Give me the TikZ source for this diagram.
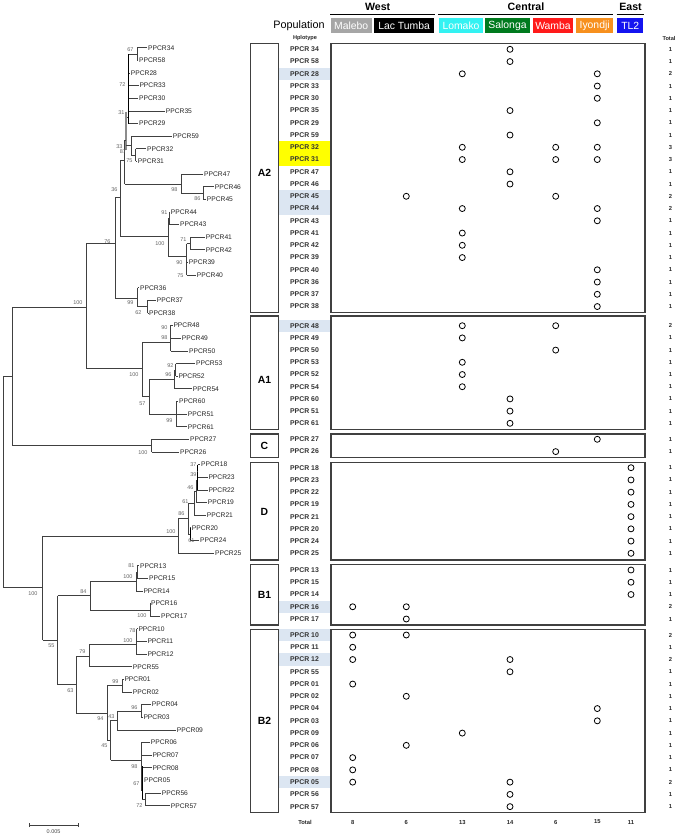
\documentclass[tikz,border=0pt]{standalone}
\usepackage{fontspec}
\setmainfont{Liberation Sans}
\newcommand\myfs[1]{\fontsize{#1}{#1}\selectfont}
\definecolor{cMal}{HTML}{A6A6A6}
\definecolor{cLac}{HTML}{000000}
\definecolor{cLom}{HTML}{33F2F2}
\definecolor{cSal}{HTML}{007A1E}
\definecolor{cWam}{HTML}{FF1A1A}
\definecolor{cIyo}{HTML}{F7901E}
\definecolor{cTL}{HTML}{1414F0}
\definecolor{hlb}{HTML}{DCE6F2}
\definecolor{hly}{HTML}{FFFF00}
\tikzset{
  br/.style={draw=black!75, line width=0.7pt},
  leaf/.style={anchor=west, inner sep=0.6pt, font=\myfs{6.7}, text=black!85},
  bs/.style={anchor=east, inner sep=0.3pt, font=\myfs{5.5}, text=black!60},
  hap/.style={inner sep=0pt, font=\bfseries\myfs{6.9}, text=black!80},
  tot/.style={inner sep=0pt, font=\bfseries\myfs{5.8}, text=black!85},
  occ/.style={circle, draw=black, line width=0.8pt, inner sep=0pt, minimum size=6pt},
  gbox/.style={draw=black!75, line width=1.1pt},
  clade/.style={inner sep=0pt, font=\bfseries\myfs{10.4}},
  popbox/.style={inner sep=0pt, minimum height=15pt, text=white, font=\myfs{10.4}},
  region/.style={inner sep=0pt, font=\bfseries\myfs{10.6}},
  hrule/.style={draw=black, line width=1.4pt}
}
\newcommand\tblgroup[3]{%
  \foreach \rn/\rc/\rt/\rh [count=\ri from 0] in {#3}{%
    \pgfmathsetmacro\yy{#1+\ri*#2}
    \ifnum\rh=1 \fill[hlb] (278.6,\yy-6.1) rectangle (330.2,\yy+6.1);\fi
    \ifnum\rh=2 \fill[hly] (278.6,\yy-6.1) rectangle (330.2,\yy+6.1);\fi
    \node[hap] (h\rn) at (304.5,\yy) {PPCR \rn};
    \node[tot] (s\rn) at (670.6,\yy) {\rt};
    \foreach \k in \rc {%
      \pgfmathsetmacro\xx{{0,352.7,406.3,462.3,510,555.7,597.3,631}[\k]}
      \node[occ] (o\rn-\k) at (\xx,\yy) {};
    }
  }%
}
\begin{document}
\begin{tikzpicture}[x=1pt,y=-1pt]
\fill[white] (0,0) rectangle (675,836);
\useasboundingbox (0,0) rectangle (675,836);

% ---------------- header ----------------
\node[region] (west) at (377.7,7) {West};
\node[region] (central) at (526,7) {Central};
\node[region] (east) at (630.5,7) {East};
\draw[hrule] (330,14.5) -- (435,14.5);
\draw[hrule] (438,14.5) -- (612.7,14.5);
\draw[hrule] (616.7,14.5) -- (644,14.5);
\node[inner sep=0pt, font=\myfs{10.8}] (popl) at (299,25.8) {Population};
\node[popbox, fill=cMal, minimum width=41pt] (pMal) at (351.2,25.7) {Malebo};
\node[popbox, fill=cLac, minimum width=60.3pt] (pLac) at (404.15,25.7) {Lac Tumba};
\node[popbox, fill=cLom, minimum width=43.4pt] (pLom) at (461,25.7) {Lomako};
\node[popbox, fill=cSal, minimum width=45pt] (pSal) at (507.5,25.7) {Salonga};
\node[popbox, fill=cWam, minimum width=40.6pt] (pWam) at (553,25.7) {Wamba};
\node[popbox, fill=cIyo, minimum width=37.3pt] (pIyo) at (594.65,25.7) {Iyondji};
\node[popbox, fill=cTL, minimum width=26pt] (pTL) at (630.3,25.7) {TL2};
\node[tot, font=\bfseries\myfs{5.6}] (hplo) at (305,38.3) {Hplotype};
\node[tot, font=\bfseries\myfs{5.6}] (totl) at (669,38.3) {Total};

% ---------------- table ----------------
\tblgroup{49.3}{12.25}{34/4/1/0, 58/4/1/0, 28/{3,6}/2/1, 33/6/1/0, 30/6/1/0, 35/4/1/0, 29/6/1/0, 59/4/1/0, 32/{3,5,6}/3/2, 31/{3,5,6}/3/2, 47/4/1/0, 46/4/1/0, 45/{2,5}/2/1, 44/{3,6}/2/1, 43/6/1/0, 41/3/1/0, 42/3/1/0, 39/3/1/0, 40/6/1/0, 36/6/1/0, 37/6/1/0, 38/6/1/0}
\tblgroup{325.7}{12.2}{48/{3,5}/2/1, 49/3/1/0, 50/5/1/0, 53/3/1/0, 52/3/1/0, 54/3/1/0, 60/4/1/0, 51/4/1/0, 61/4/1/0}
\tblgroup{439.3}{12.3}{27/6/1/0, 26/5/1/0}
\tblgroup{467.7}{12.23}{18/7/1/0, 23/7/1/0, 22/7/1/0, 19/7/1/0, 21/7/1/0, 20/7/1/0, 24/7/1/0, 25/7/1/0}
\tblgroup{570}{12.25}{13/7/1/0, 15/7/1/0, 14/7/1/0, 16/{1,2}/2/1, 17/2/1/0}
\tblgroup{635}{12.26}{10/{1,2}/2/1, 11/1/1/0, 12/{1,4}/2/1, 55/4/1/0, 01/1/1/0, 02/2/1/0, 04/6/1/0, 03/6/1/0, 09/3/1/0, 06/2/1/0, 07/1/1/0, 08/1/1/0, 05/{1,4}/2/1, 56/4/1/0, 57/4/1/0}

% group boxes
\foreach \ya/\yb/\lab/\ly in {43.3/312.3/A2/173, 316/429.3/A1/380, 434/457.7/C/446, 462.7/560/D/511.5, 564.3/625/B1/594.5, 629.3/812.7/B2/721}{%
  \draw[gbox] (250.7,\ya) rectangle (278.3,\yb);
  \draw[gbox] (331,\ya) rectangle (645,\yb);
  \node[clade] (cl\lab) at (264.5,\ly) {\lab};
}
% totals row
\node[tot] (ttot) at (305,822) {Total};
\foreach \v/\x [count=\j] in {8/352.7, 6/406.3, 13/462.3, 14/510, 6/555.7, 15/597.3, 11/631}{%
  \node[tot] (tc\j) at (\x,822) {\v};
}

% ---------------- tree: leaves ----------------
\foreach \n/\y/\x/\p in {34/47.7/148/137, 58/60.3/139/137, 28/73.0/130.7/128, 33/85.6/139.3/128, 30/98.2/139/128, 35/110.9/165.7/128, 29/123.5/139/128, 59/136.1/172.7/131, 32/148.8/147/135.7, 31/161.4/137.7/135.7, 47/174.0/204/181, 46/186.7/214.7/203.3, 45/199.3/206.7/203.3, 44/211.9/170.7/169.3, 43/224.6/180/169.3, 41/237.2/205.7/190, 42/249.8/205.7/190, 39/262.5/188.7/186.7, 40/275.1/196.7/186.7, 36/287.7/140/137.7, 37/300.4/156.7/147.7, 38/313.0/149/147.7, 48/325.6/173.3/170, 49/338.3/181.7/170, 50/350.9/189/170.7, 53/363.5/196/175.7, 52/376.2/178.3/175.7, 54/388.8/192.7/174, 60/401.4/179/176.7, 51/414.1/187.7/176.7, 61/426.7/187.7/176.7, 27/439.3/190/151.7, 26/452.0/180/151.7, 18/464.6/201/197.7, 23/477.2/208.3/197.7, 22/489.9/208.3/197, 19/502.5/207.7/196, 21/515.1/206.7/194.3, 20/527.8/191.7/190, 24/540.4/200/190, 25/553.0/215/178.3, 13/565.7/140/137.3, 15/578.3/149/137.3, 14/590.9/143.3/136, 16/603.6/151/150, 17/616.2/161/150, 10/628.8/138.3/136.7, 11/641.5/147.3/136.7, 12/654.1/147.3/136, 55/666.7/132.7/89.3, 01/679.3/124.3/122.3, 02/692.0/132.7/122.3, 04/704.6/151.7/141, 03/717.2/143.3/141, 09/729.9/176.7/117.3, 06/742.5/150.7/141, 07/755.1/152.3/141, 08/767.8/152.3/141, 05/780.4/144/142.3, 56/793.0/161.7/145.7, 57/805.7/170.7/145.7}{%
  \node[leaf] (t\n) at (\x-0.6,\y) {PPCR\n};
  \draw[br] (\p,\y) -- (t\n.west);
}

% ---------------- tree: internal branches ----------------
% A2
\draw[br] (137,47.7) -- (137,60.3);  \draw[br] (128,54) -- (137,54);
\draw[br, line width=1pt, draw=black] (128,54) -- (128,123.5);
\draw[br] (126,117) -- (128,117);
\draw[draw=black!45, line width=1.6pt] (126,111.7) -- (126,150);
\draw[br] (131,136.1) -- (131,155.1);  \draw[br] (126,145.6) -- (131,145.6);
\draw[br] (135.7,148.8) -- (135.7,161.4);  \draw[br] (131,155.1) -- (135.7,155.1);
\draw[br] (124.5,140) -- (124.5,184);  \draw[br] (124.5,140) -- (126,140);
\draw[br] (181,174) -- (181,193);  \draw[br] (124.5,184) -- (181,184);
\draw[br] (203.3,186.7) -- (203.3,199.3);  \draw[br] (181,193) -- (203.3,193);
\draw[br] (120.7,160) -- (120.7,236.7);  \draw[br] (120.7,160) -- (124.5,160);
\draw[br] (168.3,218.25) -- (168.3,256.7);  \draw[br] (120.7,236.7) -- (168.3,236.7);
\draw[br] (169.3,211.9) -- (169.3,224.6);  \draw[br] (168.3,218.25) -- (169.3,218.25);
\draw[br] (186.7,243.5) -- (186.7,275.1);  \draw[br] (168.3,256.7) -- (186.7,256.7);
\draw[br] (190,237.2) -- (190,249.8);  \draw[br] (186.7,243.5) -- (190,243.5);
\draw[br] (115,197.7) -- (115,298.3);  \draw[br] (115,197.7) -- (120.7,197.7);
\draw[br] (137.7,287.7) -- (137.7,306.7);  \draw[br] (115,298.3) -- (137.7,298.3);
\draw[br] (147.7,300.4) -- (147.7,313);  \draw[br] (137.7,306.7) -- (147.7,306.7);
\draw[br] (86,243.3) -- (86,368.3);  \draw[br] (86,243.3) -- (115,243.3);  \draw[br] (86,368.3) -- (142.7,368.3);
\draw[br] (12.3,307.7) -- (12.3,445.6);  \draw[br] (12.3,307.7) -- (86,307.7);
% A1
\draw[br] (142.7,342.3) -- (142.7,396.7);
\draw[br] (170.7,332) -- (170.7,350.9);  \draw[br] (142.7,342.3) -- (170.7,342.3);
\draw[br] (170,325.6) -- (170,338.3);
\draw[br] (149,379.3) -- (149,414.1);  \draw[br] (142.7,396.7) -- (149,396.7);
\draw[br] (174,369.85) -- (174,388.8);  \draw[br] (149,379.3) -- (174,379.3);
\draw[br] (175.7,363.5) -- (175.7,376.2);  \draw[br] (174,369.85) -- (175.7,369.85);
\draw[br] (176.7,401.4) -- (176.7,426.7);  \draw[br] (149,414.1) -- (176.7,414.1);
% C
\draw[br] (151.7,439.3) -- (151.7,452);  \draw[br] (12.3,445.6) -- (151.7,445.6);
% root
\draw[br] (3.3,376.7) -- (3.3,587.8);  \draw[br] (3.3,376.7) -- (12.3,376.7);  \draw[br] (3.3,587.8) -- (42.7,587.8);
% D
\draw[br] (42.7,535.9) -- (42.7,640.2);
\draw[br] (178.3,518.7) -- (178.3,553);  \draw[br] (42.7,535.9) -- (178.3,535.9);
\draw[br] (188.3,503.3) -- (188.3,534.1);  \draw[br] (178.3,518.7) -- (188.3,518.7);
\draw[br] (194.3,491.5) -- (194.3,515.1);  \draw[br] (188.3,503.3) -- (194.3,503.3);
\draw[br] (196,480.4) -- (196,502.5);  \draw[br] (194.3,491.5) -- (196,491.5);
\draw[br, draw=black, line width=1pt] (197,470.9) -- (197,489.9);  \draw[br] (196,480.4) -- (197,480.4);
\draw[br, draw=black, line width=1pt] (197.7,464.6) -- (197.7,477.2);  \draw[br] (197,470.9) -- (197.7,470.9);
\draw[br, draw=black, line width=1pt] (190,527.8) -- (190,540.4);  \draw[br] (188.3,534.1) -- (190,534.1);
% B1
\draw[br] (57.7,595.65) -- (57.7,684.8);  \draw[br] (42.7,640.2) -- (57.7,640.2);
\draw[br] (90,581.4) -- (90,609.9);  \draw[br] (57.7,595.65) -- (90,595.65);
\draw[br] (136,572) -- (136,590.9);  \draw[br] (90,581.4) -- (136,581.4);
\draw[br] (137.3,565.7) -- (137.3,578.3);  \draw[br] (136,572) -- (137.3,572);
\draw[br] (150,603.6) -- (150,616.2);  \draw[br] (90,609.9) -- (150,609.9);
% B2
\draw[br] (76,656.7) -- (76,712.9);  \draw[br] (57.7,684.8) -- (76,684.8);
\draw[br] (89.3,644.6) -- (89.3,666.7);  \draw[br] (76,656.7) -- (89.3,656.7);
\draw[br] (136,635.15) -- (136,654.1);  \draw[br] (89.3,644.6) -- (136,644.6);
\draw[br] (136.7,628.8) -- (136.7,641.5);  \draw[br] (136,635.15) -- (136.7,635.15);
\draw[br] (107.3,685.65) -- (107.3,740.2);  \draw[br] (76,712.9) -- (107.3,712.9);
\draw[br] (122.3,679.3) -- (122.3,692);  \draw[br] (107.3,685.65) -- (122.3,685.65);
\draw[br] (110.7,720.4) -- (110.7,760);  \draw[br] (107.3,740.2) -- (110.7,740.2);
\draw[br] (117.3,710.9) -- (117.3,729.9);  \draw[br] (110.7,720.4) -- (117.3,720.4);
\draw[br] (141,704.6) -- (141,717.2);  \draw[br] (117.3,710.9) -- (141,710.9);
\draw[br] (141,742.5) -- (141,789.9);  \draw[br] (110.7,760) -- (141,760);
\draw[br, draw=black, line width=1pt] (142.3,766) -- (142.3,799.35);  \draw[br] (141,789.9) -- (142.3,789.9);
\draw[br] (145.7,793) -- (145.7,805.7);  \draw[br] (142.3,799.35) -- (145.7,799.35);

% ---------------- bootstrap values ----------------
\foreach \v/\x/\y [count=\bi] in {67/134/50, 72/126/85, 31/125/112.7, 33/123/146.7, 87/126.5/151.7, 75/133/161, 98/178/190, 86/201/199, 36/118/190, 91/168/213, 76/111/241.7, 100/165/243.3, 71/187/239.3, 90/183/262.3, 75/184/275.7, 100/83/302.7, 99/134/302.7, 62/142/313, 90/168/327.3, 98/168/337.3, 92/174/366, 100/139/375, 96/172/375, 57/146/403.3, 99/173/420.7, 100/148/452.3, 37/197/465, 39/197/475, 46/194/487.7, 61/189/501.7, 86/185/514, 100/176/532, 61/195/540.7, 81/135/566, 100/133/576.7, 84/87/591.7, 100/38/594, 100/147/616, 78/136/630.7, 100/133/640.7, 55/55/646, 79/86/651.7, 63/74/690.7, 99/119/681.7, 96/138/707.3, 43/115/716.7, 94/104/719, 45/108/746, 98/138/766.7, 67/140/783.3, 72/143/805.7}{%
  \node[bs] (b\bi) at (\x,\y) {\v};
}

% ---------------- scale bar ----------------
\coordinate (sbl) at (29,825);
\coordinate (sbr) at (78.3,825);
\draw[br] (sbl) -- (sbr);
\draw[br] ([yshift=-2pt]sbl) -- ([yshift=2pt]sbl);
\draw[br] ([yshift=-2pt]sbr) -- ([yshift=2pt]sbr);
\node[inner sep=0pt, font=\myfs{5.5}, text=black!70] (sbt) at (53.6,832) {0.005};
\end{tikzpicture}
\end{document}
